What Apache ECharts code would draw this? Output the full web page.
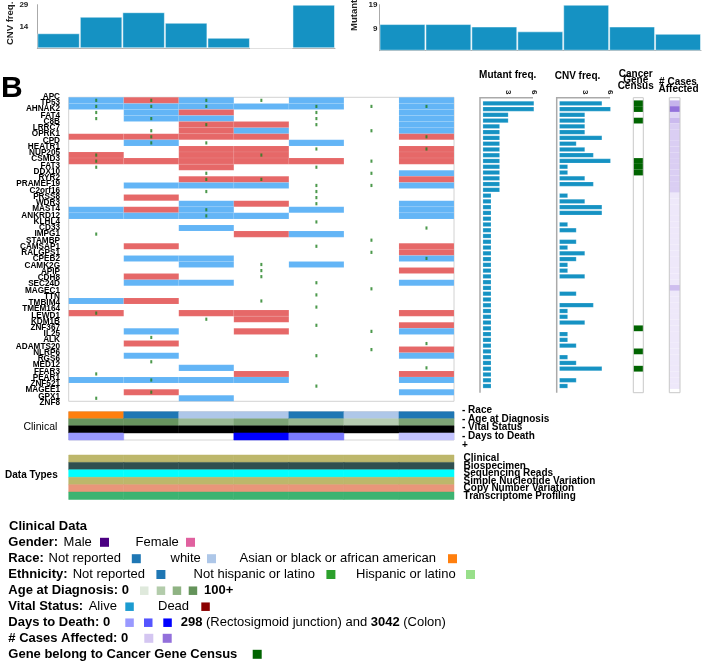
<!DOCTYPE html>
<html><head><meta charset="utf-8">
<script src="https://cdn.jsdelivr.net/npm/echarts@6.0.0/dist/echarts.min.js"></script>
<style>html,body{margin:0;padding:0;background:#fff}#c{width:708px;height:662px}</style>
</head><body><div id="c"></div><script>
// ---------------- DATA ----------------
const cases = ['case1','case2','case3','case4','case5','case6','case7'];
const genes = ['APC','TP53','AHNAK2','FAT4','C8B','LRRC7','OPRK1','CPD','HEATR1','NUP205',
  'CSMD3','FAT3','DDX10','RYR2','PRAMEF19','C2orf16','PRSS8','WDR3','MAST4','ANKRD12',
  'KLHL4','CD33','IMPG1','STAMBP','CAMSAP1','RALGPS1','CPEB2','CAMK2G','APIP','CDH8',
  'SEC24D','MAGEC1','TTN','TMBIM4','TMEM164','LEWD1','KDM1B','ZNF367','IL25','ALK',
  'ADAMTS20','NLRP6','RGS6','MED12','FFAR3','PEAR1','ZNF521','MAGEE1','GPX1','ZNF8'];
// CNV per gene (rows) x case (cols): R = gain, B = loss, . = none
const cnvMatrix = ['BRB.B.B','BBBBB.B','.BR...B','.BB...B','..RR..B','..RB..B','RRRR..R','.B..B..','..RR..R','R.RR..R',
  'RRRRR.R','..R....','......B','..RR..R','.BBB..B','.......','.R.....','..BR..B','BRB.B.B','BBBB..B',
  '.......','..B....','...RB..','.......','.R....R','......R','.BB...B','..B.B..','......R','.R.....',
  '.BB...B','.......','.......','BR.....','.......','R.RR..R','...R...','......R','.B.R..B','.......',
  '.R.....','......R','.B....B','.......','..B....','...R..R','BBBB..B','.......','.R....B','..B....'];
// simple somatic mutation present (1) per gene x case
const mutMatrix = ['1111000','1110111','1000100','1100100','0010100','0100010','0100001','0110000','0000101','1001000',
  '1000010','1000100','0010010','0011000','0000110','0010100','0000100','0000100','0010000','0010000',
  '0000100','0000001','1000000','0000010','0000100','0000010','0000001','0001000','0001000','0001000',
  '0000100','0000010','0000100','0001000','0000100','1000000','0010000','0000100','0000010','0100000',
  '0000001','0000010','0000100','0100000','0000001','1000000','0100000','0000100','0100000','1000000'];
const caseCnvFreq = [10, 21, 24, 17, 7, 0, 29];
const caseCnvTicks = [14, 29];
const caseMutFreq = [11, 11, 10, 8, 19, 10, 7];
const caseMutTicks = [9, 19];
const geneMutFreq = [6,6,3,3,2,2,2,2,2,2, 2,2,2,2,2,2,1,1,1,1, 1,1,1,1,1,1,1,1,1,1, 1,1,1,1,1,1,1,1,1,1, 1,1,1,1,1,1,1,1,1,1];
const geneCnvFreq = [5,6,3,3,3,3,5,2,3,4, 6,1,1,3,4,0,1,3,5,5, 0,1,2,0,2,1,3,2,1,1, 3,0,0,2,0,4,1,1,3,0, 1,1,2,0,1,2,5,0,2,1];
const geneFreqTicks = [3, 6];
const censusGenes = ['APC','TP53','FAT4','CSMD3','FAT3','DDX10','ALK','MED12','ZNF521'];
const casesAffected = [18,38,8,16,10,10,10,10,10,10, 10,10,10,10,10,10,2,2,2,2, 2,2,2,2,2,2,2,2,2,2, 2,2,15,2,2,2,2,2,2,2, 2,2,2,2,2,2,2,2,2,2];
const clinicalTracks = ['Race','Age at Diagnosis','Vital Status','Days to Death'];
const clinicalLabels = ['- Race','- Age at Diagnosis','- Vital Status','- Days to Death','+'];
const race = ['Asian or black or african american','Not reported','white','white','Not reported','white','Not reported'];
const ageAtDiagnosis = [90, 90, 54, 74, 55, 33, 74];
const vitalStatus = ['not reported','not reported','not reported','not reported','not reported','not reported','not reported'];
const daysToDeath = [1220, null, null, 3042, 1580, null, 700];
const dataTypes = ['Clinical','Biospecimen','Sequencing Reads','Simple Nucleotide Variation','Copy Number Variation','Transcriptome Profiling'];

// ---------------- STYLE ----------------
const FONT = '"Liberation Sans", Arial, Helvetica, sans-serif';
const RED = '#e66868', BLUE = '#63b5f6', DOT = '#1f7f1f', BAR = '#1592c3';
const raceColor = {'Not reported':'#1f77b4','white':'#aec7e8','Asian or black or african american':'#ff7f0e'};
const dataTypeColor = ['#bdb76b','#2f4f4f','#00ffff','#bdb76b','#e9967a','#3cb371'];
const lerp = (t, a, b) => echarts.color.lerp(Math.max(0, Math.min(1, t)), [a, b]);
const ageCol = v => lerp(v / 100, '#e4ede1', '#5a8a50');
const daysCol = v => lerp(v / 3042, '#ffffff', '#0000ff');
const casesCol = v => lerp(v / 40, '#f3effc', '#8f6bd9');

// build cell data [col, row, colorIndex] with a color list
function cells(list) {
  const colors = [], data = [];
  list.forEach(o => { data.push([o.c, o.r, colors.length]); colors.push(o.color); });
  return {colors, data};
}
// stroke: a colour string, 'self' (same as fill, hides seams) or null
function cellRenderer(colors, stroke) {
  return function (params, api) {
    const p = api.coord([api.value(0), api.value(1)]);
    const s = api.size([1, 1]);
    const fill = colors[api.value(2)];
    const st = stroke === 'self' ? fill : stroke;
    return {type: 'rect', shape: {x: p[0] - s[0] / 2, y: p[1] - s[1] / 2, width: s[0], height: s[1]},
      style: {fill, stroke: st || null, lineWidth: st ? 0.5 : 0}};
  };
}

const cnvCells = [], mutPts = [];
genes.forEach((g, r) => {
  for (let c = 0; c < cases.length; c++) {
    const ch = cnvMatrix[r][c];
    if (ch === 'R') cnvCells.push({c, r, color: RED});
    if (ch === 'B') cnvCells.push({c, r, color: BLUE});
    if (mutMatrix[r][c] === '1') mutPts.push([c, r]);
  }
});
const cnv = cells(cnvCells);

const clinList = [];
cases.forEach((k, c) => {
  clinList.push({c, r: 0, color: raceColor[race[c]]});
  clinList.push({c, r: 1, color: ageCol(ageAtDiagnosis[c])});
  clinList.push({c, r: 2, color: vitalStatus[c] === 'alive' ? '#1c9bd0' : (vitalStatus[c] === 'dead' ? '#8b0000' : '#000000')});
  if (daysToDeath[c] != null) clinList.push({c, r: 3, color: daysCol(daysToDeath[c])});
});
const clin = cells(clinList);

const dtList = [];
dataTypes.forEach((d, r) => cases.forEach((k, c) => dtList.push({c, r, color: dataTypeColor[r]})));
const dt = cells(dtList);

const cgc = cells(genes.map((g, r) => censusGenes.includes(g) ? {c: 0, r, color: '#006400'} : null).filter(Boolean));
const ca = cells(casesAffected.map((v, r) => ({c: 0, r, color: casesCol(v)})));

// ---------------- OPTION ----------------
const G = o => Object.assign({outerBoundsMode: 'none', containLabel: false, show: false}, o);
const hiddenCat = (gi, data, extra) => Object.assign({type: 'category', gridIndex: gi, data, show: false}, extra || {});
const lblStyle = (s, w) => ({fontFamily: FONT, fontSize: s, fontWeight: w || 'bold', color: '#000'});

const grids = [
  G({left: 37.3, top: 4.7, width: 297.7, height: 43.6}),
  G({left: 379.5, top: 4.7, width: 321.5, height: 46}),
  G({left: 68.7, top: 97.3, width: 385.3, height: 304, show: true, borderColor: '#d2d2d2', borderWidth: 1, backgroundColor: 'rgba(0,0,0,0)'}),
  G({left: 61, top: 93.6, width: 1, height: 312.2}),
  G({left: 68.7, top: 411.7, width: 385.3, height: 28.3, show: true, borderColor: '#d6d6d6', borderWidth: 1, backgroundColor: 'rgba(0,0,0,0)'}),
  G({left: 460, top: 406.2, width: 1, height: 43}),
  G({left: 68.7, top: 455, width: 385.3, height: 44.5}),
  G({left: 482.7, top: 100.4, width: 51.4, height: 288.5}),
  G({left: 559.3, top: 100.4, width: 51.4, height: 288.5}),
  G({left: 633.3, top: 100.4, width: 10, height: 288.5}),
  G({left: 669.3, top: 100.4, width: 10.7, height: 288.5})
];

const topX = gi => ({type: 'category', gridIndex: gi, data: cases, axisLine: {show: true, lineStyle: {color: '#aaa', width: 1}}, axisTick: {show: false}, axisLabel: {show: false}});
const topY = (gi, max, ticks, margin) => ({type: 'value', gridIndex: gi, min: 0, max, axisLine: {show: true, lineStyle: {color: '#aaa', width: 1}},
  axisTick: {show: false}, splitLine: {show: false}, axisLabel: Object.assign({customValues: ticks, margin}, lblStyle(8), {color: '#222'})});
const geneX = gi => ({type: 'value', gridIndex: gi, position: 'top', min: 0, max: 6, axisLine: {show: false}, axisTick: {show: false}, splitLine: {show: false},
  axisLabel: Object.assign({customValues: geneFreqTicks, rotate: 90, margin: 6}, lblStyle(8), {color: '#222'})});

const xAxes = [
  topX(0), topX(1),
  hiddenCat(2, cases),
  {type: 'value', gridIndex: 3, min: 0, max: 1, show: false},
  hiddenCat(4, cases),
  {type: 'value', gridIndex: 5, min: 0, max: 1, show: false},
  hiddenCat(6, cases),
  geneX(7), geneX(8),
  hiddenCat(9, ['CGC']),
  hiddenCat(10, ['cases'])
];
const yAxes = [
  topY(0, 29, caseCnvTicks, 9),
  topY(1, 19, caseMutTicks, 2),
  hiddenCat(2, genes, {inverse: true}),
  {type: 'category', gridIndex: 3, data: genes, inverse: true, axisLine: {show: false}, axisTick: {show: false},
    axisLabel: Object.assign({interval: 0, margin: 1}, lblStyle(8.2))},
  hiddenCat(4, clinicalTracks, {inverse: true}),
  {type: 'category', gridIndex: 5, data: clinicalLabels, inverse: true, position: 'right', axisLine: {show: false}, axisTick: {show: false},
    axisLabel: Object.assign({interval: 0, margin: 1}, lblStyle(10))},
  {type: 'category', gridIndex: 6, data: dataTypes, inverse: true, position: 'right', axisLine: {show: false}, axisTick: {show: false},
    axisLabel: Object.assign({interval: 0, margin: 9.6}, lblStyle(10))},
  hiddenCat(7, genes, {inverse: true}),
  hiddenCat(8, genes, {inverse: true}),
  hiddenCat(9, genes, {inverse: true}),
  hiddenCat(10, genes, {inverse: true})
];

const barTop = (i, data) => ({type: 'bar', xAxisIndex: i, yAxisIndex: i, data, barCategoryGap: '0%', silent: true,
  itemStyle: {color: BAR, borderColor: 'rgba(255,255,255,0.5)', borderWidth: 1}});
const barGene = (i, data) => ({type: 'bar', xAxisIndex: i, yAxisIndex: i, data, barCategoryGap: '18%', silent: true,
  itemStyle: {color: BAR, borderColor: 'rgba(255,255,255,0.35)', borderWidth: 0.5}});
const custom = (i, set, stroke) => ({type: 'custom', xAxisIndex: i, yAxisIndex: i, data: set.data, silent: true,
  renderItem: cellRenderer(set.colors, stroke)});

const series = [
  barTop(0, caseCnvFreq),
  barTop(1, caseMutFreq),
  custom(2, cnv, 'rgba(255,255,255,0.15)'),
  {type: 'scatter', xAxisIndex: 2, yAxisIndex: 2, data: mutPts, symbol: 'rect', symbolSize: [2, 3.2], silent: true, itemStyle: {color: DOT}, z: 5},
  custom(4, clin, 'self'),
  custom(6, dt, 'self'),
  barGene(7, geneMutFreq),
  barGene(8, geneCnvFreq),
  custom(9, cgc),
  custom(10, ca)
];

// ---------------- TEXT / LEGEND ----------------
function T(x, y, text, o) {
  o = o || {};
  const el = {type: 'text', x, y, silent: true, z: 10,
    style: {text, fill: o.fill || '#000', fontFamily: FONT, fontSize: o.s || 10, fontWeight: o.w || 'bold',
      align: o.align || 'left', verticalAlign: o.va || 'middle'}};
  if (o.rot != null) el.rotation = o.rot;
  if (o.rich) el.style.rich = o.rich;
  return el;
}
function SQ(x, yc, color, s) { s = s || 9; return {type: 'rect', silent: true, z: 10, shape: {x, y: yc - s / 2, width: s, height: s}, style: {fill: color}}; }

const els = [
  T(1, 89, 'B', {s: 30}),
  T(10.5, 45, 'CNV freq.', {s: 9.5, rot: Math.PI / 2, fill: '#222'}),
  T(354.5, 31, 'Mutant freq.', {s: 9.5, rot: Math.PI / 2, fill: '#222'}),
  T(507.7, 75, 'Mutant freq.', {align: 'center'}),
  T(577.5, 76.7, 'CNV freq.', {align: 'center'}),
  T(635.7, 74, 'Cancer', {align: 'center'}),
  T(635.7, 80.3, 'Gene', {align: 'center'}),
  T(635.7, 86.7, 'Census', {align: 'center'}),
  T(678, 82.7, '# Cases', {align: 'center'}),
  T(678.5, 89.3, 'Affected', {align: 'center'}),
  T(57.3, 426.7, 'Clinical', {align: 'right', s: 10.5, w: 'normal'}),
  T(57.7, 475, 'Data Types', {align: 'right', s: 10}),
  {type: 'polyline', silent: true, shape: {points: [[480, 392.7], [480, 97.7], [533, 97.7]]}, style: {stroke: '#aaa', lineWidth: 1.5, fill: null}},
  {type: 'polyline', silent: true, shape: {points: [[556.7, 392.7], [556.7, 97.7], [610, 97.7]]}, style: {stroke: '#aaa', lineWidth: 1.5, fill: null}},
  {type: 'rect', silent: true, z: 10, shape: {x: 633.3, y: 97.7, width: 10, height: 295}, style: {stroke: '#c8c8c8', lineWidth: 1, fill: null}},
  {type: 'rect', silent: true, z: 10, shape: {x: 669.3, y: 97.7, width: 10.7, height: 295}, style: {stroke: '#c8c8c8', lineWidth: 1, fill: null}}
];

const LS = 13;
const B = (x, y, t) => T(x, y, t, {s: LS});
const R = (x, y, t) => T(x, y, t, {s: LS, w: 'normal'});
els.push(
  B(9, 526.7, 'Clinical Data'),
  B(8.3, 542.3, 'Gender:'), R(63.6, 542.3, 'Male'), SQ(100, 542.3, '#4b0082'), R(135.5, 542.3, 'Female'), SQ(186, 542.3, '#e0619f'),
  B(8.3, 558.7, 'Race:'), R(48.6, 558.7, 'Not reported'), SQ(131.8, 558.7, raceColor['Not reported']), R(170.5, 558.7, 'white'), SQ(207, 558.7, raceColor['white']),
  R(239.5, 558.7, 'Asian or black or african american'), SQ(448, 558.7, raceColor['Asian or black or african american']),
  B(8.3, 574.5, 'Ethnicity:'), R(72.7, 574.5, 'Not reported'), SQ(156.4, 574.5, '#1f77b4'), R(193.6, 574.5, 'Not hispanic or latino'), SQ(326.4, 574.5, '#2ca02c'),
  R(356, 574.5, 'Hispanic or latino'), SQ(466, 574.5, '#98df8a'),
  B(8.3, 590.7, 'Age at Diagnosis: 0'), SQ(140, 590.7, '#dfe9dc', 8.5), SQ(156.7, 590.7, '#b3ccab', 8.5), SQ(172.7, 590.7, '#8fb383', 8.5), SQ(188.7, 590.7, '#64935a', 8.5), B(204, 590.7, '100+'),
  B(8.3, 606.7, 'Vital Status:'), R(88.7, 606.7, 'Alive'), SQ(125.3, 606.7, '#1c9bd0', 8.5), R(158, 606.7, 'Dead'), SQ(201.3, 606.7, '#8b0000', 8.5),
  B(8.3, 622.7, 'Days to Death: 0'), SQ(125.3, 622.7, '#9999ff', 8.5), SQ(144, 622.7, '#5555ff', 8.5), SQ(163.3, 622.7, '#0000ff', 8.5),
  T(180.7, 622.7, '{b|298} (Rectosigmoid junction) and {b|3042} (Colon)', {s: LS, w: 'normal', rich: {b: {fontWeight: 'bold', fontSize: LS, fontFamily: FONT, fill: '#000'}}}),
  B(8.3, 638.3, '# Cases Affected: 0'), SQ(144.3, 638.3, '#d4c6f1'), SQ(162.7, 638.3, '#9370db'),
  B(8.3, 654.3, 'Gene belong to Cancer Gene Census'), SQ(252.7, 654.3, '#006400')
);

const chart = echarts.init(document.getElementById('c'));
chart.setOption({
  animation: false, backgroundColor: '#fff', textStyle: {fontFamily: FONT},
  grid: grids, xAxis: xAxes, yAxis: yAxes, series, graphic: {elements: els}
});
</script></body></html>
